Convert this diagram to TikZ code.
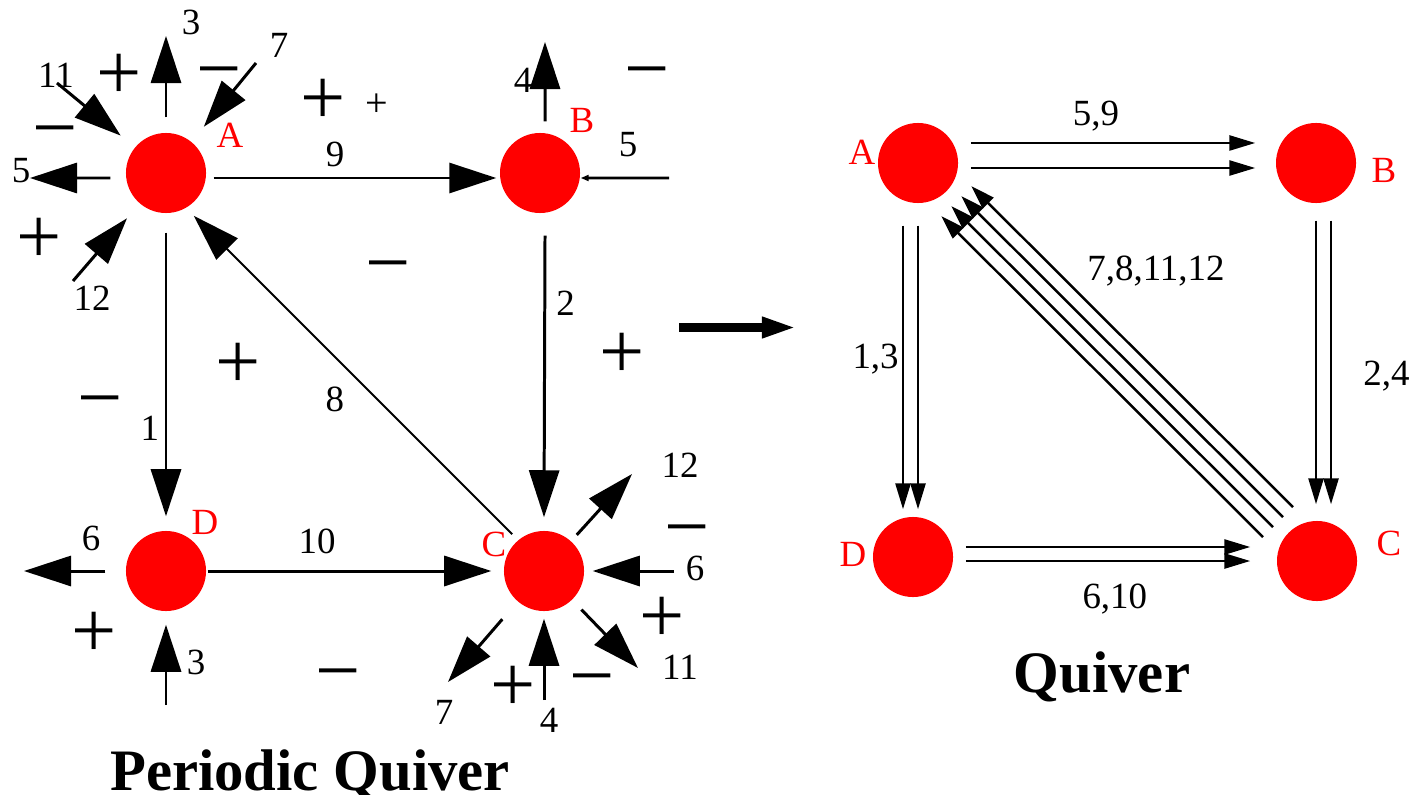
\documentclass[tikz,border=0pt]{standalone}
\usepackage{fontspec}
\setmainfont{Liberation Serif}
\usetikzlibrary{arrows.meta,calc,positioning}
\tikzset{
  vertex/.style   = {circle, fill=red, minimum size=0.8cm, inner sep=0pt},
  vname/.style    = {text=red, font=\fontsize{10.5}{12}\selectfont, inner sep=0pt},
  num/.style      = {font=\fontsize{10.5}{12}\selectfont, inner sep=0pt},
  sign/.style     = {font=\fontsize{22.8}{24}\selectfont, inner sep=0pt,
                     anchor=base, yshift=-7.5pt},
  tinysign/.style = {font=\fontsize{11.4}{12}\selectfont, inner sep=0pt,
                     anchor=base, yshift=-3.7pt},
  pq/.style       = {line width=0.85pt, -{Triangle[length=4.7mm,width=3mm]}},
  pqthin/.style   = {line width=0.6pt, -{Triangle[length=4.7mm,width=3mm]}},
  pqsmall/.style  = {line width=0.85pt, -{Triangle[length=0.8mm,width=0.6mm]}},
  qv/.style       = {line width=0.75pt, -{Triangle[length=2.6mm,width=1.5mm]}},
  qvd/.style      = {line width=0.7pt, -{Triangle[length=2.4mm,width=1.5mm]}},
  maparrow/.style = {line width=2.6pt, -{Triangle[length=3.5mm,width=1.9mm]}},
  heading/.style  = {font=\fontsize{16.7}{18}\selectfont\bfseries,
                     anchor=base, inner sep=0pt}
}

\begin{document}
\begin{tikzpicture}[x=0.01cm,y=-0.01cm]
\useasboundingbox (0,0) rectangle (1410,794);

% --- periodic quiver: the four vertices -----------------------------------
\node[vertex] (A) at (166,173) {};
\node[vertex] (B) at (540,173) {};
\node[vertex] (D) at (166,571) {};
\node[vertex] (C) at (544,571) {};
\node[vname] (nA) at (230,135) {A};
\node[vname] (nB) at (582,120) {B};
\node[vname] (nD) at (205,522) {D};
\node[vname] (nC) at (494,544) {C};

% --- arrows inside the fundamental domain ---------------------------------
\draw[pq] ([xshift=0.7mm,yshift=-0.5mm]A.east) -- node[num, pos=0.43, above=0.95mm] (l9) {9}
      ([xshift=-0.3mm,yshift=-0.5mm]B.west);
\draw[pq] ([xshift=0.5mm,yshift=-2.2mm]B.south) -- node[num, pos=0.24, right=1mm] (l2) {2}
      ([yshift=1.3mm]C.north);
\draw[pq] ([yshift=-1.9mm]A.south) -- node[num, pos=0.69, left=0.55mm] (l1) {1}
      ([yshift=1.4mm]D.north);
\draw[pq] ([xshift=0.1mm]D.east) -- node[num, pos=0.386, above=1.55mm] (l10) {10}
      ([xshift=-1.2mm]C.west);
\draw[pqthin] ([xshift=-0.3mm,yshift=0.8mm]C.north west) -- node[num, pos=0.49,
      below left=0.75mm and 1.1mm] (l8) {8} ([xshift=-0.1mm,yshift=-1.4mm]A.south east);

% --- arrows leaving the domain at A ---------------------------------------
\coordinate (a3)  at (166,36);
\coordinate (a5)  at (30,178);
\coordinate (a7)  at (256,63);
\coordinate (a11) at (57,83);
\coordinate (a12) at (73,281);
\draw[pq] ([yshift=1.5mm]A.north) -- (a3);
\draw[pq] ([xshift=-1.5mm,yshift=-0.5mm]A.west) -- (a5);
\draw[pq, shorten >=1.9mm] (a7) -- (A);
\draw[pq, shorten >=1.8mm] (a11) -- (A);
\draw[pq, shorten >=1.9mm] (a12) -- (A);
\node[num] (la3)  at (191,22)  {3};
\node[num] (la7)  at (279,45)  {7};
\node[num] (la11) at (56,75)   {11};
\node[num] (la5)  at (21,171)  {5};
\node[num] (la12) at (92,298)  {12};

% --- at B -----------------------------------------------------------------
\coordinate (b4) at (545,42);
\coordinate (b5) at (669,178);
\draw[pq] ([xshift=0.5mm,yshift=1.1mm]B.north) -- (b4);
\draw[pqsmall] (b5) -- ([yshift=-0.5mm]B.east);
\node[num] (lb4) at (523,80)  {4};
\node[num] (lb5) at (628,145) {5};

% --- at D -----------------------------------------------------------------
\coordinate (d6) at (24,571);
\coordinate (d3) at (166,705);
\draw[pq] ([xshift=-2mm]D.west) -- (d6);
\draw[pq] (d3) -- ([yshift=-1.3mm]D.south);
\node[num] (ld6) at (91,538)  {6};
\node[num] (ld3) at (196,662) {3};

% --- at C -----------------------------------------------------------------
\coordinate (c12) at (632,474);
\coordinate (c6)  at (674,571);
\coordinate (c11) at (638,668);
\coordinate (c4)  at (544,700);
\coordinate (c7)  at (448,682);
\draw[pq, shorten <=0.8mm] (C) -- (c12);
\draw[pq] (c6) -- ([xshift=0.8mm]C.east);
\draw[pq, shorten <=1.3mm] (C) -- (c11);
\draw[pq] (c4) -- ([yshift=-0.7mm]C.south);
\draw[pq, shorten <=2.3mm] (C) -- (c7);
\node[num] (lc12) at (680,465) {12};
\node[num] (lc6)  at (695,568) {6};
\node[num] (lc11) at (680,667) {11};
\node[num] (lc4)  at (549,720) {4};
\node[num] (lc7)  at (444,712) {7};

% --- face signs -----------------------------------------------------------
\foreach \p [count=\i] in {(119,73),(39,237),(323,98),(238,362),(622,352),
                           (94,631),(662,616),(513,685)}
  \node[sign] (plus\i) at \p {+};
\foreach \p [count=\i] in {(219,69),(55,128),(388,263),(647,69),(100,398),
                           (338,671),(687,527),(592,676)}
  \node[sign] (minus\i) at \p {−};
\node[tinysign] (plus0) at (377,103) {+};

\node[heading] (ptitle) at (310,790) {Periodic Quiver};

% --- the map to the quiver ------------------------------------------------
\coordinate (mapfrom) at (679,327.5);
\coordinate (mapto)   at (797,327.5);
\draw[maparrow] (mapfrom) -- (mapto);

% --- quiver: vertices -----------------------------------------------------
\node[vertex] (qa) at (918,163) {};
\node[vertex] (qb) at (1316,163) {};
\node[vertex] (qd) at (913,557) {};
\node[vertex] (qc) at (1317,561) {};
\node[vname] (mA) at (862,152)  {A};
\node[vname] (mB) at (1384,170) {B};
\node[vname] (mD) at (853,554)  {D};
\node[vname] (mC) at (1389,543) {C};

% --- quiver: double arrows ------------------------------------------------
\draw[qv] ([xshift=1.2mm,yshift=2mm]qa.east) -- node[num, pos=0.44, above=1mm] (l59) {5,9}
      ([xshift=-2mm,yshift=2mm]qb.west);
\draw[qv] ([xshift=1.2mm,yshift=-0.5mm]qa.east) -- ([xshift=-2mm,yshift=-0.5mm]qb.west);

\draw[qv, shorten >=0.7mm] ([xshift=-1.5mm,yshift=-2.2mm]qa.south) -- node[num, pos=0.46,
      left=0.3mm] (l13) {1,3} ([xshift=-1.5mm]qa.south |- qd.north);
\draw[qv, shorten >=0.7mm] ([yshift=-2.2mm]qa.south) -- (qa.south |- qd.north);

\draw[qv, shorten >=1.6mm] ([yshift=-1.7mm]qb.south) -- (qb.south |- qc.north);
\draw[qv, shorten >=1.6mm] ([xshift=1.5mm,yshift=-1.7mm]qb.south) -- node[num, pos=0.52,
      right=3.1mm] (l24) {2,4} ([xshift=1.5mm]qb.south |- qc.north);

\draw[qv, shorten >=2.6mm] ([xshift=1.2mm,yshift=1mm]qd.east) -- ([yshift=1mm]qd.east -| qc.west);
\draw[qv, shorten >=2.6mm] ([xshift=1.2mm,yshift=-0.4mm]qd.east) -- node[num, pos=0.48,
      below=2.2mm] (l610) {6,10} ([yshift=-0.4mm]qd.east -| qc.west);

% --- quiver: four arrows from C to A --------------------------------------
\foreach \k in {30,10,-10,-30}
  \draw[qvd, shorten <=5.5mm, shorten >=5.4mm]
    ([shift={(\k/2,-\k/2)}]qc.center) -- ([shift={(\k/2,-\k/2)}]qa.center);
\node[num, anchor=base] (l781112) at (1156,280) {7,8,11,12};

\node[heading] (qtitle) at (1102,692) {Quiver};

\end{tikzpicture}
\end{document}
